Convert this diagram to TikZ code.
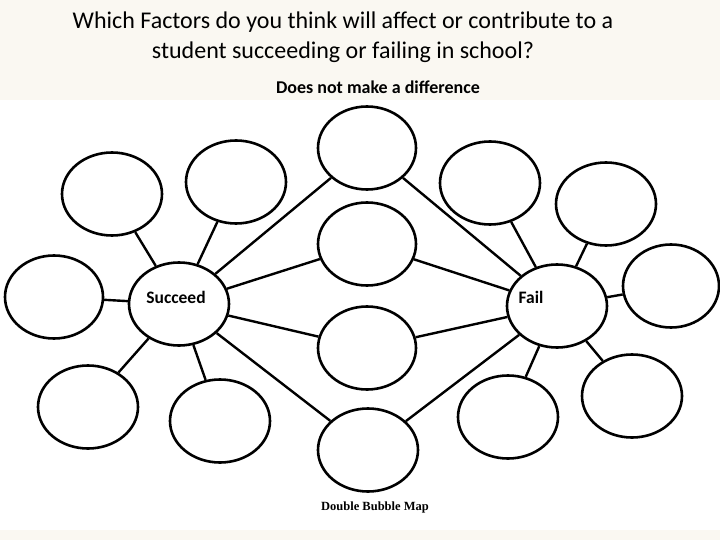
\documentclass[tikz,border=0pt]{standalone}
\usepackage{fontspec}
\setmainfont{Carlito}
\newfontfamily\serifb{Liberation Serif}
\usetikzlibrary{shapes.geometric}
\definecolor{cream}{HTML}{FAF8F2}
\tikzset{
  bub/.style={ellipse, draw=black, line width=2.6pt, fill=white, minimum width=#1, minimum height=83pt, inner sep=0pt},
  bub/.default=100pt,
  con/.style={line width=2.4pt, black},
  lbl/.style={font=\fontsize{17.5}{19}\selectfont\bfseries, inner sep=0pt}
}
\begin{document}
\begin{tikzpicture}[x=1pt,y=-1pt]
\useasboundingbox (0,0) rectangle (720,540);
\fill[cream] (0,0) rectangle (720,540);
\fill[white] (0,100) rectangle (720,530);
\node[font=\fontsize{24}{30}\selectfont, align=center] (title) at (343,37) {Which Factors do you think will affect or contribute to a\\student succeeding or failing in school?};
\node[font=\fontsize{18}{20}\selectfont\bfseries] (dnm) at (378,87) {Does not make a difference};
% bubbles
\node[bub] (b1) at (112,194) {};
\node[bub] (b2) at (236,182) {};
\node[bub=98pt] (c1) at (367,148) {};
\node[bub=98pt] (c2) at (367,244) {};
\node[bub] (b5) at (490,183) {};
\node[bub] (b6) at (606,204) {};
\node[bub=96pt] (b7) at (671,286) {};
\node[bub] (fail) at (557,306) {};
\node[bub] (succ) at (179,304) {};
\node[bub=98pt] (b10) at (54,297) {};
\node[bub] (b11) at (88,407) {};
\node[bub] (b12) at (220,421) {};
\node[bub=98pt] (c3) at (367,348) {};
\node[bub] (c4) at (368,450) {};
\node[bub] (b15) at (508,417) {};
\node[bub] (b16) at (632,396) {};
% connectors
\foreach \t in {b1,b2,c1,c2,b10,b11,b12,c3,c4}{
  \draw[con] (succ) -- (\t);
}
\foreach \t in {c1,c2,b5,b6,b7,c3,c4,b15,b16}{
  \draw[con] (fail) -- (\t);
}
\node[lbl] (st) at (176,297) {Succeed};
\node[lbl] (ft) at (531,297) {Fail};
\node[font=\serifb\fontsize{12.5}{14}\selectfont\bfseries] (dbm) at (375,507) {Double Bubble Map};
\end{tikzpicture}
\end{document}
